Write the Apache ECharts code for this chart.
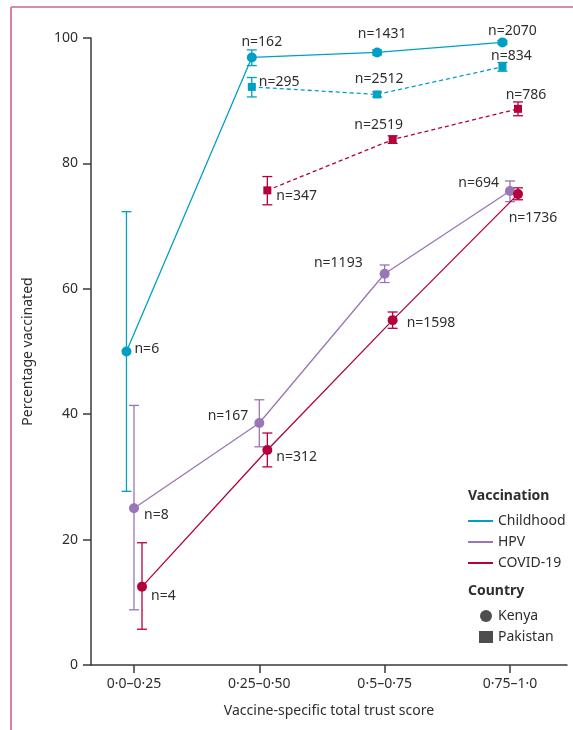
<!DOCTYPE html>
<html>
<head>
    <meta charset="utf-8">
    <title>Vaccination by trust score</title>
    <script src="https://cdn.jsdelivr.net/npm/echarts@6/dist/echarts.min.js"></script>
    <style>
        html, body { margin: 0; padding: 0; background: #fff; }
    </style>
</head>
<body>
    <div id="main" style="width: 573px;height:730px;"></div>

    <script type="text/javascript">
// categories on the x axis
var categories = ['0·0–0·25', '0·25–0·50', '0·5–0·75', '0·75–1·0'];

// Kenya
var kenyaChildhood     = [50.0, 96.9, 97.7, 99.3];
var kenyaChildhoodLow  = [27.7, 95.6, 97.3, 99.0];
var kenyaChildhoodHigh = [72.3, 98.1, 98.1, 99.6];
var kenyaChildhoodN    = [6, 162, 1431, 2070];

var kenyaHpv     = [25.0, 38.6, 62.4, 75.6];
var kenyaHpvLow  = [8.8, 34.8, 61.0, 73.9];
var kenyaHpvHigh = [41.4, 42.3, 63.8, 77.2];
var kenyaHpvN    = [8, 167, 1193, 694];

var kenyaCovid     = [12.5, 34.3, 55.0, 75.1];
var kenyaCovidLow  = [5.7, 31.6, 53.7, 74.2];
var kenyaCovidHigh = [19.5, 37.0, 56.3, 76.1];
var kenyaCovidN    = [4, 312, 1598, 1736];

// Pakistan (no data in the first trust band)
var pakChildhood     = [null, 92.2, 91.0, 95.4];
var pakChildhoodLow  = [null, 90.6, 90.6, 94.7];
var pakChildhoodHigh = [null, 93.7, 91.4, 96.1];
var pakChildhoodN    = [null, 295, 2512, 834];

var pakCovid     = [null, 75.7, 83.8, 88.7];
var pakCovidLow  = [null, 73.4, 83.2, 87.6];
var pakCovidHigh = [null, 77.9, 84.4, 89.8];
var pakCovidN    = [null, 347, 2519, 786];

var C_CHILD = '#00a0c4';
var C_HPV = '#9a76b5';
var C_COVID = '#b4003e';
var TXT = '#2e2e2e';
var FONT = 'Noto Sans';

// label placement for the n= annotations: [position, dx, dy]
var lblKenyaChildhood = [['right', -2, -2], ['top', 10, 2], ['top', 5, -1], ['top', 10, 6]];
var lblKenyaHpv       = [['right', 0, 7], ['left', -1, -7], ['left', -12, -11], ['left', -1, -8]];
var lblKenyaCovid     = [['right', -1, 9], ['right', -1, 7], ['right', 4, 3], ['bottom', 15, 7]];
var lblPakChildhood   = [null, ['right', -2, -5], ['top', 2, 1], ['top', 9, 5]];
var lblPakCovid       = [null, ['right', 0, 6], ['top', -14, 1], ['top', 8, 2]];

var DODGE = { child: -0.06, hpv: 0, covid: 0.064 };

function points(vals, ns, lbls, dx) {
    var res = [];
    for (var i = 0; i < vals.length; i++) {
        if (vals[i] == null) continue;
        var l = lbls[i];
        res.push({
            value: [i + dx, vals[i]],
            label: {
                show: true,
                formatter: 'n=' + ns[i],
                position: l[0],
                offset: [l[1], l[2]],
                color: TXT,
                fontFamily: FONT,
                fontSize: 14
            }
        });
    }
    return res;
}

function bars(lo, hi, dx) {
    var res = [];
    for (var i = 0; i < lo.length; i++) {
        if (lo[i] == null) continue;
        res.push([i + dx, lo[i], hi[i]]);
    }
    return res;
}

function errSeries(name, data, color) {
    return {
        name: name,
        type: 'custom',
        data: data,
        encode: { x: 0, y: [1, 2] },
        z: 3,
        renderItem: function (params, api) {
            var x = api.value(0);
            var a = api.coord([x, api.value(1)]);
            var b = api.coord([x, api.value(2)]);
            var w = 5;
            var st = { stroke: color, lineWidth: 1.3 };
            return {
                type: 'group',
                children: [
                    { type: 'line', shape: { x1: a[0], y1: a[1], x2: b[0], y2: b[1] }, style: st },
                    { type: 'line', shape: { x1: a[0] - w, y1: a[1], x2: a[0] + w, y2: a[1] }, style: st },
                    { type: 'line', shape: { x1: b[0] - w, y1: b[1], x2: b[0] + w, y2: b[1] }, style: st }
                ]
            };
        }
    };
}

function lineSeries(name, data, color, symbol, size, dashed) {
    return {
        name: name,
        type: 'line',
        data: data,
        symbol: symbol,
        symbolSize: size,
        showAllSymbol: true,
        z: 4,
        itemStyle: { color: color },
        lineStyle: { color: color, width: 1.3, type: dashed ? [4, 3] : 'solid' },
        emphasis: { disabled: true },
        animation: false
    };
}

var chart = echarts.init(document.getElementById('main'));

chart.setOption({
    backgroundColor: '#fff',
    animation: false,
    textStyle: { fontFamily: FONT },
    grid: { left: 91, right: 6, top: 38, bottom: 65 },
    xAxis: {
        type: 'value',
        min: -0.343,
        max: 3.455,
        name: 'Vaccine-specific total trust score',
        nameLocation: 'middle',
        nameGap: 39,
        nameTextStyle: { color: TXT, fontSize: 14, fontFamily: FONT },
        splitLine: { show: false },
        axisLine: { onZero: false, lineStyle: { color: '#3a3a3a', width: 1.5 } },
        axisTick: { show: true, length: 8, inside: false, customValues: [0, 1, 2, 3], lineStyle: { color: '#3a3a3a', width: 1.5 } },
        axisLabel: {
            customValues: [0, 1, 2, 3],
            margin: 12,
            color: TXT,
            fontSize: 14,
            fontFamily: FONT,
            formatter: function (v) { return categories[Math.round(v)]; }
        }
    },
    yAxis: {
        type: 'value',
        min: 0,
        max: 100,
        interval: 20,
        name: 'Percentage vaccinated',
        nameLocation: 'middle',
        nameGap: 56,
        nameTextStyle: { color: TXT, fontSize: 14, fontFamily: FONT },
        splitLine: { show: false },
        axisLine: { show: true, onZero: false, lineStyle: { color: '#3a3a3a', width: 1.5 } },
        axisTick: { show: true, length: 8, inside: false, lineStyle: { color: '#3a3a3a', width: 1.5 } },
        axisLabel: { margin: 13, color: TXT, fontSize: 14, fontFamily: FONT }
    },
    legend: [
        {
            data: ['Childhood', 'HPV', 'COVID-19'],
            orient: 'vertical',
            left: 468,
            top: 514,
            padding: 0,
            icon: 'rect',
            itemWidth: 25,
            itemHeight: 2,
            itemGap: 7,
            selectedMode: false,
            textStyle: { color: TXT, fontSize: 14, fontFamily: FONT }
        },
        {
            data: [{ name: 'Kenya', icon: 'circle' }, { name: 'Pakistan', icon: 'rect' }],
            orient: 'vertical',
            left: 479,
            top: 609,
            padding: 0,
            itemWidth: 14,
            itemHeight: 12,
            itemGap: 7,
            selectedMode: false,
            textStyle: { color: TXT, fontSize: 14, fontFamily: FONT }
        }
    ],
    graphic: [
        { type: 'line', shape: { x1: 11, y1: 7, x2: 573, y2: 7 }, style: { stroke: '#b01c48', lineWidth: 1.2 } },
        { type: 'line', shape: { x1: 11, y1: 7, x2: 11, y2: 730 }, style: { stroke: '#e27e9c', lineWidth: 2 } },
        { type: 'text', left: 468, top: 489, style: { text: 'Vaccination', fill: TXT, font: 'bold 14px "Noto Sans"' } },
        { type: 'text', left: 468, top: 584, style: { text: 'Country', fill: TXT, font: 'bold 14px "Noto Sans"' } }
    ],
    series: [
        errSeries('ebKC', bars(kenyaChildhoodLow, kenyaChildhoodHigh, DODGE.child), C_CHILD),
        errSeries('ebKH', bars(kenyaHpvLow, kenyaHpvHigh, DODGE.hpv), C_HPV),
        errSeries('ebKV', bars(kenyaCovidLow, kenyaCovidHigh, DODGE.covid), C_COVID),
        errSeries('ebPC', bars(pakChildhoodLow, pakChildhoodHigh, DODGE.child), C_CHILD),
        errSeries('ebPV', bars(pakCovidLow, pakCovidHigh, DODGE.covid), C_COVID),
        lineSeries('Childhood', points(kenyaChildhood, kenyaChildhoodN, lblKenyaChildhood, DODGE.child), C_CHILD, 'circle', 10, false),
        lineSeries('HPV', points(kenyaHpv, kenyaHpvN, lblKenyaHpv, DODGE.hpv), C_HPV, 'circle', 10, false),
        lineSeries('COVID-19', points(kenyaCovid, kenyaCovidN, lblKenyaCovid, DODGE.covid), C_COVID, 'circle', 10, false),
        lineSeries('Childhood', points(pakChildhood, pakChildhoodN, lblPakChildhood, DODGE.child), C_CHILD, 'rect', 8, true),
        lineSeries('COVID-19', points(pakCovid, pakCovidN, lblPakCovid, DODGE.covid), C_COVID, 'rect', 8, true),
        { name: 'Kenya', type: 'scatter', data: [], itemStyle: { color: '#222' } },
        { name: 'Pakistan', type: 'scatter', data: [], itemStyle: { color: '#222' } }
    ]
});
    </script>
</body>
</html>
